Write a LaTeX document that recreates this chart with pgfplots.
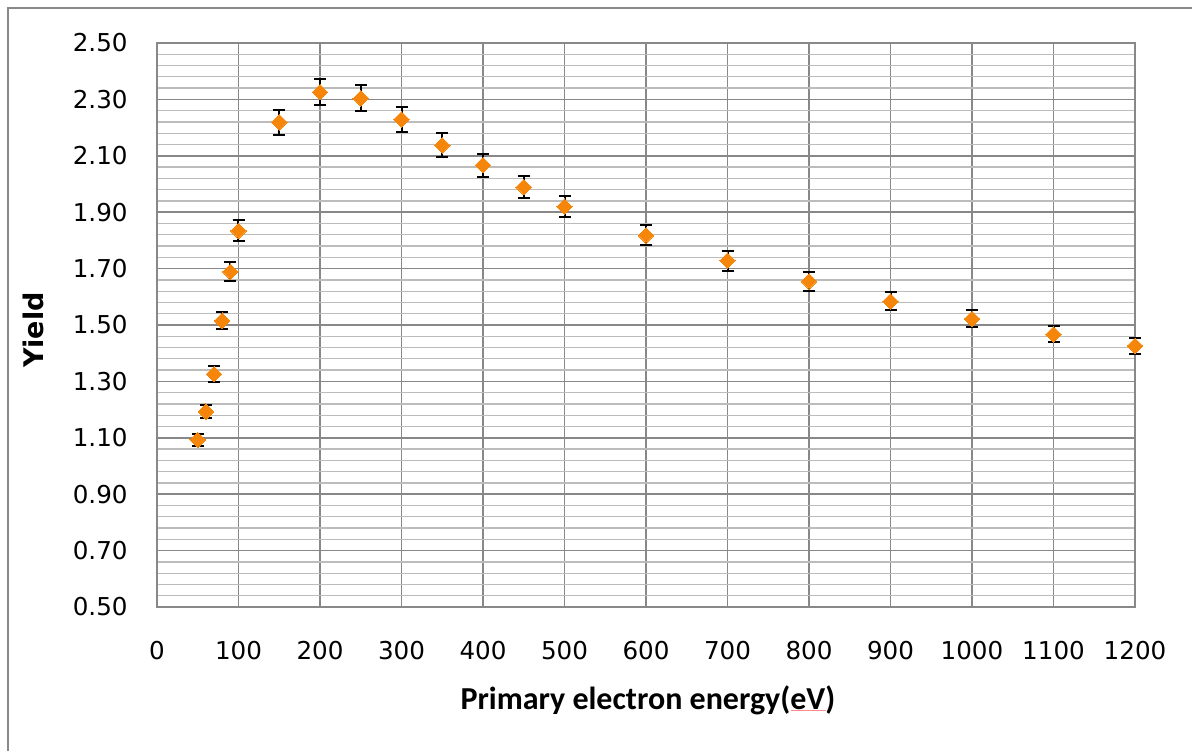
\documentclass[border=0pt]{standalone}
\usepackage{fontspec}
\usepackage{pgfplots}
\pgfplotsset{compat=1.18}
\newfontfamily\tickfont{DejaVu Sans}
\newfontfamily\calib{Carlito}

\definecolor{markorange}{RGB}{245,134,10}
\definecolor{gridmajor}{RGB}{136,136,136}
\definecolor{gridminor}{RGB}{188,188,188}

% energy (eV), yield, error
\pgfplotstableread{
x     y      e
50    1.093  0.022
60    1.193  0.024
70    1.326  0.027
80    1.515  0.030
90    1.689  0.034
100   1.834  0.037
150   2.219  0.044
200   2.326  0.047
250   2.304  0.046
300   2.229  0.045
350   2.137  0.043
400   2.067  0.041
450   1.989  0.040
500   1.920  0.038
600   1.818  0.036
700   1.728  0.035
800   1.655  0.033
900   1.584  0.032
1000  1.522  0.030
1100  1.467  0.029
1200  1.426  0.029
}\yielddata

\begin{document}
\begin{tikzpicture}
\useasboundingbox (-78.5pt,-72pt) rectangle (517.5pt,303.5pt);
\begin{axis}[
  scale only axis,
  width=489pt, height=282pt,
  xmin=0, xmax=1200, ymin=0.5, ymax=2.5,
  xtick={0,100,...,1200},
  ytick={0.5,0.7,...,2.5},
  minor y tick num=4,
  xmajorgrids, ymajorgrids, yminorgrids,
  major grid style={gridmajor, line width=0.75pt},
  minor grid style={gridminor, line width=0.65pt},
  axis line style={gridmajor, line width=0.8pt},
  major tick length=0pt, minor tick length=0pt,
  /pgf/number format/assume math mode=true,
  tick label style={font=\tickfont\fontsize{12.3}{14}\selectfont, text=black},
  xticklabel style={anchor=north, inner sep=0pt, yshift=-17pt,
    /pgf/number format/1000 sep={}},
  yticklabel style={anchor=east, inner sep=0pt, xshift=-14.5pt,
    /pgf/number format/.cd, fixed, fixed zerofill, precision=2},
  xlabel={Primary electron energy(eV)},
  ylabel={Yield},
  every axis x label/.style={at={(axis description cs:0.502,-0.165)}, anchor=center,
    font=\calib\bfseries\fontsize{16}{19}\selectfont},
  every axis y label/.style={at={(axis description cs:-0.1268,0.491)}, anchor=center,
    rotate=90, font=\tickfont\bfseries\fontsize{13.5}{16}\selectfont},
  clip=false,
]
\addplot[draw=none, mark=none,
  error bars/.cd, y dir=both, y explicit,
  error bar style={black, line width=1pt},
  error mark options={rotate=90, mark size=3pt, line width=1pt, black}]
  table[x=x, y=y, y error=e] {\yielddata};
\addplot[only marks, mark=square*, mark size=2.75pt,
  mark options={rotate=45, fill=markorange, draw=markorange, line width=0pt}]
  table[x=x, y=y] {\yielddata};
\end{axis}
% chart area frame
\draw[gridmajor, line width=0.75pt] (-74.5pt,-72pt) -- (-74.5pt,299.5pt) -- (517.5pt,299.5pt);
% spell-check underline below "eV"
\draw[red!45, line width=0.4pt] (317pt,-51.5pt) -- (334.5pt,-51.5pt);
\end{tikzpicture}
\end{document}
